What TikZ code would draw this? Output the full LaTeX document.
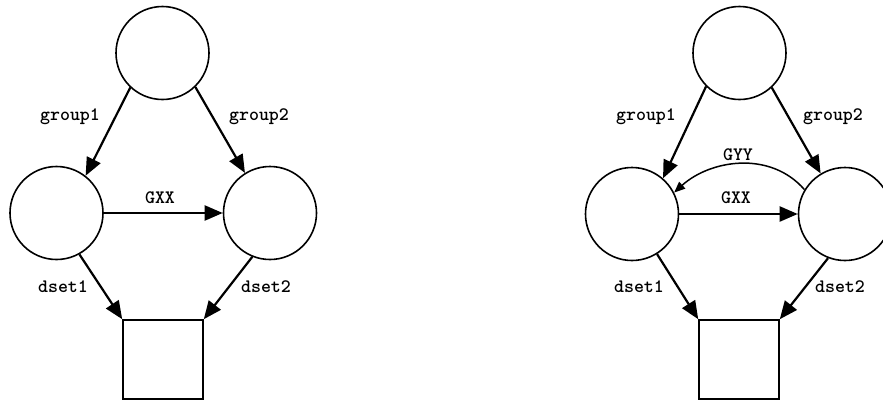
\documentclass[tikz,border=0pt]{standalone}
\usepackage{fontspec}
\usetikzlibrary{arrows.meta}
\tikzset{
  state/.style={circle,draw,line width=1.6pt,minimum size=93pt,inner sep=0pt},
  sink/.style={rectangle,draw,line width=1.6pt,minimum width=80pt,minimum height=79pt,inner sep=0pt},
  arr/.style={line width=2.2pt,-{Triangle[length=18pt,width=15pt]}},
  carr/.style={line width=1.5pt,-{Triangle[length=11pt,width=9pt]}},
  lab/.style={font=\ttfamily\bfseries\fontsize{19}{22}\selectfont,inner sep=0pt}
}
\begin{document}
\begin{tikzpicture}[x=1pt,y=-1pt]
\useasboundingbox (0,0) rectangle (883,400);
% left diagram
\node[state] (t1) at (162.5,53) {};
\node[state] (a1) at (56.5,213) {};
\node[state] (b1) at (270,213) {};
\node[sink] (s1) at (163,359.5) {};
\draw[arr] (t1.227) -- (a1.52);
\draw[arr] (t1.314) -- (b1.122);
\draw[arr] (a1.east) -- (b1.west);
\draw[arr] (a1.299) -- (s1.north west);
\draw[arr] (b1.248) -- (s1.north east);
\node[lab] (g1a) at (70,117) {group1};
\node[lab] (g2a) at (259,117) {group2};
\node[lab] (gxa) at (160,198) {GXX};
\node[lab] (d1a) at (63,287) {dset1};
\node[lab] (d2a) at (266,287) {dset2};
% right diagram
\node[state] (t2) at (739.5,53) {};
\node[state] (a2) at (632,214) {};
\node[state] (b2) at (845,214) {};
\node[sink] (s2) at (739,359.5) {};
\draw[arr] (t2.225) -- (a2.49);
\draw[arr] (t2.313) -- (b2.121);
\draw[arr] (a2.east) -- (b2.west);
\draw[arr] (a2.302) -- (s2.north west);
\draw[arr] (b2.249) -- (s2.north east);
\draw[carr] (b2.149) .. controls (770,150) and (710,160) .. (a2.27);
\node[lab] (g1b) at (646,117) {group1};
\node[lab] (g2b) at (833,117) {group2};
\node[lab] (gyb) at (738,155) {GYY};
\node[lab] (gxb) at (736,198) {GXX};
\node[lab] (d1b) at (639,287) {dset1};
\node[lab] (d2b) at (840,287) {dset2};
\end{tikzpicture}
\end{document}
